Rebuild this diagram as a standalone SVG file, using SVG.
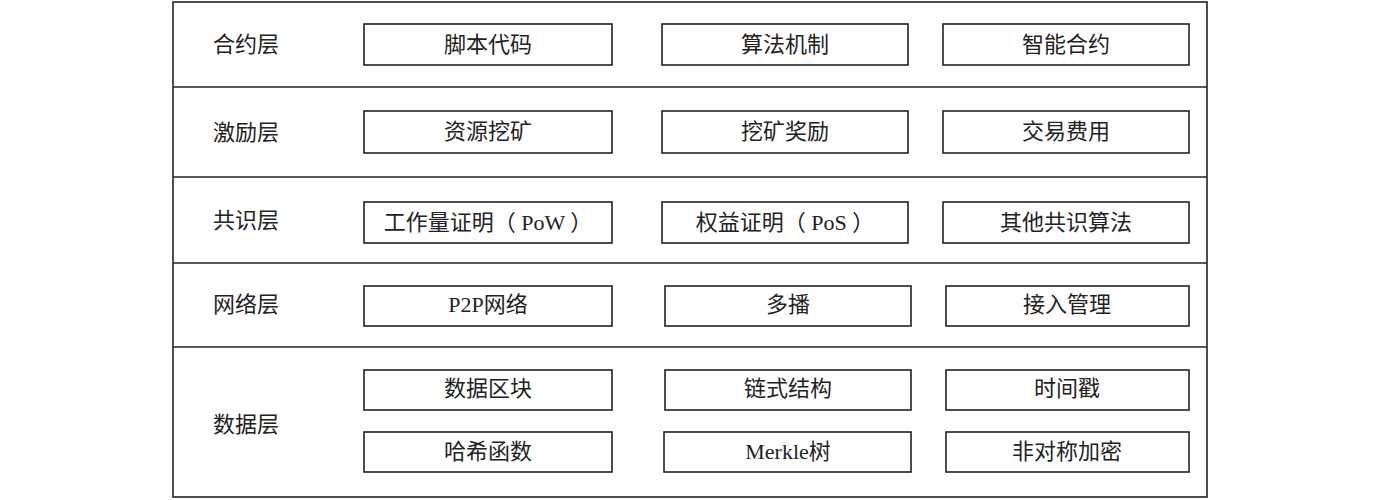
<svg xmlns="http://www.w3.org/2000/svg" width="1379" height="500" viewBox="0 0 1379 500">
<style>
.b{fill:#fff;stroke:#222;stroke-width:1.6}
.l{stroke:#222;stroke-width:1.6}
text{font-family:"Liberation Serif","Noto Sans CJK SC",serif;font-size:22px;fill:#222;dominant-baseline:central}
.c{text-anchor:middle}
</style>
<rect width="1379" height="500" fill="#fff"/>
<g id="frame">
<rect x="173" y="2" width="1034" height="495" class="b"/>
<line x1="173" y1="87" x2="1207" y2="87" class="l"/>
<line x1="173" y1="177" x2="1207" y2="177" class="l"/>
<line x1="173" y1="263" x2="1207" y2="263" class="l"/>
<line x1="173" y1="347" x2="1207" y2="347" class="l"/>
</g>
<g id="labels">
<text x="213" y="44">合约层</text>
<text x="213" y="132">激励层</text>
<text x="213" y="220">共识层</text>
<text x="213" y="304">网络层</text>
<text x="213" y="424">数据层</text>
</g>
<g id="n1"><rect x="364" y="24" width="248" height="41" class="b"/><text x="488" y="44" class="c">脚本代码</text></g>
<g id="n2"><rect x="662" y="24" width="246" height="41" class="b"/><text x="785" y="44" class="c">算法机制</text></g>
<g id="n3"><rect x="943" y="24" width="246" height="41" class="b"/><text x="1066" y="44" class="c">智能合约</text></g>
<g id="n4"><rect x="364" y="111" width="248" height="42" class="b"/><text x="488" y="131" class="c">资源挖矿</text></g>
<g id="n5"><rect x="662" y="111" width="246" height="42" class="b"/><text x="785" y="131" class="c">挖矿奖励</text></g>
<g id="n6"><rect x="943" y="111" width="246" height="42" class="b"/><text x="1066" y="131" class="c">交易费用</text></g>
<g id="n7"><rect x="364" y="202" width="248" height="41" class="b"/><text x="488" y="222" class="c">工作量证明（ PoW ）</text></g>
<g id="n8"><rect x="662" y="202" width="246" height="41" class="b"/><text x="785" y="222" class="c">权益证明（ PoS ）</text></g>
<g id="n9"><rect x="943" y="202" width="246" height="41" class="b"/><text x="1066" y="222" class="c">其他共识算法</text></g>
<g id="n10"><rect x="364" y="286" width="248" height="40" class="b"/><text x="488" y="304" class="c">P2P网络</text></g>
<g id="n11"><rect x="665" y="286" width="246" height="40" class="b"/><text x="788" y="304" class="c">多播</text></g>
<g id="n12"><rect x="946" y="286" width="243" height="40" class="b"/><text x="1067" y="304" class="c">接入管理</text></g>
<g id="n13"><rect x="364" y="370" width="248" height="40" class="b"/><text x="488" y="388" class="c">数据区块</text></g>
<g id="n14"><rect x="665" y="370" width="246" height="40" class="b"/><text x="788" y="388" class="c">链式结构</text></g>
<g id="n15"><rect x="946" y="370" width="243" height="40" class="b"/><text x="1067" y="388" class="c">时间戳</text></g>
<g id="n16"><rect x="364" y="432" width="248" height="40" class="b"/><text x="488" y="451" class="c">哈希函数</text></g>
<g id="n17"><rect x="664" y="432" width="247" height="40" class="b"/><text x="788" y="451" class="c">Merkle树</text></g>
<g id="n18"><rect x="946" y="432" width="243" height="40" class="b"/><text x="1067" y="451" class="c">非对称加密</text></g>
<g id="connectors"/>
</svg>
